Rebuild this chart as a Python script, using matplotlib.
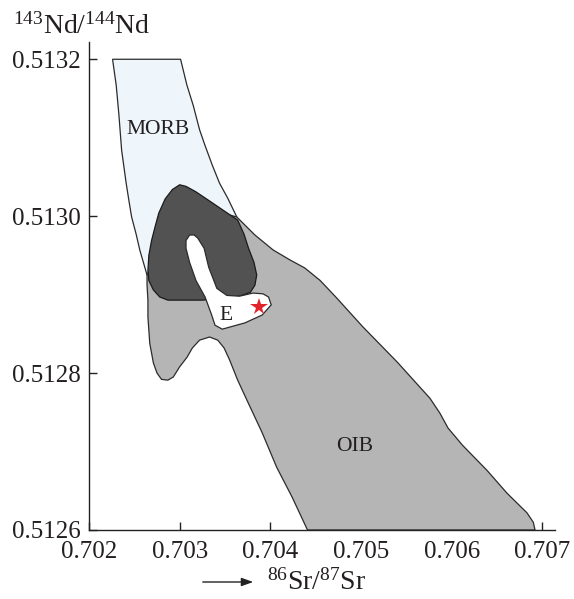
import matplotlib
matplotlib.use("Agg")
import matplotlib.pyplot as plt
from matplotlib.patches import Polygon, FancyArrowPatch

# ---------------- data (Sr ratio, Nd ratio) ----------------
morb_sr = [0.70226, 0.70230, 0.70233, 0.70236, 0.70241, 0.70244, 0.70247, 0.70252,
           0.70256, 0.70264, 0.70295, 0.70350, 0.70369, 0.70363, 0.70353, 0.70344,
           0.70336, 0.70328, 0.70322, 0.70315, 0.70308, 0.70301]
morb_nd = [0.513200, 0.513167, 0.513129, 0.513084, 0.513042, 0.513020, 0.512999, 0.512977,
           0.512957, 0.512925, 0.512893, 0.512906, 0.512980, 0.512999, 0.513023, 0.513042,
           0.513065, 0.513090, 0.513110, 0.513141, 0.513167, 0.513200]

oib_sr = [0.70363, 0.70383, 0.70403, 0.70422, 0.70438, 0.70455, 0.70473, 0.70502,
          0.70540, 0.70576, 0.70587, 0.70596, 0.70612, 0.70639, 0.70661, 0.70683,
          0.70690, 0.70692, 0.70441, 0.70424, 0.70407, 0.70391, 0.70374, 0.70364,
          0.70355, 0.70349, 0.70342, 0.70333, 0.70322, 0.70314, 0.70308, 0.70300,
          0.70293, 0.70287, 0.70280, 0.70275, 0.70271, 0.70267, 0.70266, 0.70265,
          0.70265, 0.70264, 0.70264, 0.70273, 0.70284, 0.70306, 0.70344]
oib_nd = [0.512999, 0.512976, 0.512957, 0.512944, 0.512934, 0.512918, 0.512896, 0.512859,
          0.512814, 0.512768, 0.512749, 0.512730, 0.512708, 0.512676, 0.512647, 0.512622,
          0.512610, 0.512600, 0.512600, 0.512642, 0.512680, 0.512724, 0.512766, 0.512791,
          0.512817, 0.512832, 0.512842, 0.512846, 0.512842, 0.512832, 0.512820, 0.512808,
          0.512795, 0.512791, 0.512792, 0.512800, 0.512813, 0.512838, 0.512855, 0.512871,
          0.512893, 0.512912, 0.512925, 0.512950, 0.513005, 0.513024, 0.513005]

dark_sr = [0.70300, 0.70292, 0.70284, 0.70277, 0.70273, 0.70269, 0.70266, 0.70265,
           0.70266, 0.70271, 0.70278, 0.70287, 0.70326, 0.70366, 0.70378, 0.70383,
           0.70385, 0.70382, 0.70376, 0.70371, 0.70364, 0.70350, 0.70336, 0.70318, 0.70307]
dark_nd = [0.513040, 0.513034, 0.513022, 0.513004, 0.512987, 0.512969, 0.512950, 0.512931,
           0.512918, 0.512906, 0.512897, 0.512893, 0.512893, 0.512898, 0.512903, 0.512912,
           0.512925, 0.512941, 0.512959, 0.512977, 0.512995, 0.513006, 0.513017, 0.513031, 0.513038]

e_sr = [0.70311, 0.70307, 0.70307, 0.70311, 0.70318, 0.70328, 0.70335, 0.70339,
        0.70347, 0.70372, 0.70391, 0.70401, 0.70398, 0.70392, 0.70381, 0.70366,
        0.70352, 0.70341, 0.70332, 0.70327, 0.70320, 0.70316]
e_nd = [0.512976, 0.512969, 0.512959, 0.512941, 0.512918, 0.512897, 0.512875, 0.512861,
        0.512856, 0.512864, 0.512874, 0.512887, 0.512897, 0.512901, 0.512902, 0.512898,
        0.512899, 0.512908, 0.512935, 0.512959, 0.512972, 0.512976]

sample_sr = [0.70387]
sample_nd = [0.512884]

x_ticks = [0.702, 0.703, 0.704, 0.705, 0.706, 0.707]
x_tick_labels = ["0.702", "0.703", "0.704", "0.705", "0.706", "0.707"]
y_ticks = [0.5126, 0.5128, 0.5130, 0.5132]
y_tick_labels = ["0.5126", "0.5128", "0.5130", "0.5132"]

field_labels = ["MORB", "OIB", "E"]
field_label_sr = [0.70276, 0.70493, 0.70351]
field_label_nd = [0.513110, 0.512706, 0.512874]

# ---------------- style ----------------
plt.rcParams["font.family"] = ["Liberation Serif", "DejaVu Serif"]
plt.rcParams["mathtext.fontset"] = "custom"
plt.rcParams["mathtext.rm"] = "Liberation Serif"
plt.rcParams["mathtext.it"] = "Liberation Serif:italic"
txt_color = "#231f20"
edge = "#2b2b2b"

fig = plt.figure(figsize=(5.74, 5.99), dpi=100)
ax = fig.add_axes([89 / 574, 1 - 530 / 599, (555 - 89) / 574, (530 - 42) / 599])
ax.set_xlim(0.702, 0.70714)
ax.set_ylim(0.5126, 0.513222)

lw = 0.9
ax.add_patch(Polygon(list(zip(morb_sr, morb_nd)), closed=True, facecolor="#eef6fc",
                     edgecolor=edge, lw=lw, zorder=1))
ax.add_patch(Polygon(list(zip(oib_sr, oib_nd)), closed=True, facecolor="#b5b5b5",
                     edgecolor=edge, lw=lw, zorder=2))
ax.add_patch(Polygon(list(zip(dark_sr, dark_nd)), closed=True, facecolor="#525252",
                     edgecolor="#1a1a1a", lw=lw, zorder=3))
ax.add_patch(Polygon(list(zip(e_sr, e_nd)), closed=True, facecolor="white",
                     edgecolor=edge, lw=lw, zorder=4))
ax.plot(sample_sr, sample_nd, linestyle="none", marker="*", markersize=13,
        color="#e3232a", markeredgewidth=0, zorder=5)

for lab, xs, ys in zip(field_labels, field_label_sr, field_label_nd):
    ax.text(xs, ys, lab, fontsize=15.5, color=txt_color, ha="center", va="center", zorder=6)

for s in ["top", "right"]:
    ax.spines[s].set_visible(False)
for s in ["left", "bottom"]:
    ax.spines[s].set_color("#222222")
    ax.spines[s].set_linewidth(1.0)

ax.set_xticks(x_ticks)
ax.set_xticklabels(x_tick_labels)
ax.set_yticks(y_ticks)
ax.set_yticklabels(y_tick_labels)
ax.tick_params(direction="in", length=6, width=1.0, colors="#222222",
               labelsize=18, labelcolor=txt_color)
ax.tick_params(axis="x", pad=8)
ax.tick_params(axis="y", pad=6)
for t in ax.get_yticklabels():
    t.set_verticalalignment("center_baseline")

# axis titles
fig.text(13 / 574, 1 - 34 / 599, r"$^{143}$Nd/$^{144}$Nd", fontsize=20,
         color=txt_color, ha="left", va="baseline")
fig.text(267 / 574, 1 - 590 / 599, r"$^{86}$Sr/$^{87}$Sr", fontsize=20,
         color=txt_color, ha="left", va="baseline")
fig.add_artist(FancyArrowPatch(
    (200 / 574, 1 - 582 / 599), (256 / 574, 1 - 582 / 599),
    transform=fig.transFigure, arrowstyle="-|>,head_length=7,head_width=2.5",
    color="#222222", lw=1.0, mutation_scale=1))

fig.savefig("out.png", dpi=100)
